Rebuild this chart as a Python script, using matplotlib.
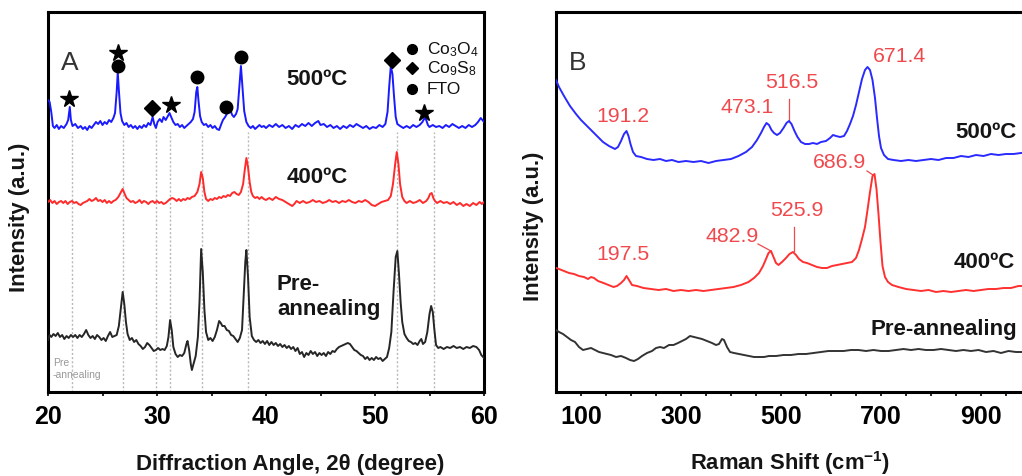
import matplotlib
matplotlib.use("Agg")
import matplotlib.pyplot as plt

plt.rcParams["font.family"] = ["Liberation Sans", "DejaVu Sans"]
plt.rcParams["mathtext.default"] = "regular"

# ---- panel A: XRD, 2theta (degree) vs intensity (a.u., offset traces)
xrd500 = [(20.0, 292), (20.15, 290), (20.3, 280), (20.45, 266), (20.6, 264), (20.8, 267), (21.0, 263),
          (21.2, 266), (21.45, 264), (21.7, 268), (21.85, 272), (22.0, 285), (22.1, 272), (22.25, 266),
          (22.5, 268), (22.75, 264), (23.0, 266), (23.2, 263), (23.4, 265), (23.6, 262), (23.8, 266),
          (24.0, 264), (24.2, 267), (24.4, 270), (24.6, 268), (24.8, 271), (25.0, 267), (25.2, 270),
          (25.4, 268), (25.6, 272), (25.8, 270), (26.0, 274), (26.15, 279), (26.3, 300), (26.4, 320),
          (26.5, 302), (26.65, 279), (26.8, 271), (27.0, 267), (27.2, 269), (27.4, 265), (27.6, 267),
          (27.8, 264), (28.0, 266), (28.2, 263), (28.4, 266), (28.6, 264), (28.8, 267), (29.0, 265),
          (29.2, 269), (29.4, 267), (29.6, 275), (29.75, 268), (29.9, 264), (30.05, 270), (30.25, 273),
          (30.45, 270), (30.6, 275), (30.8, 272), (31.0, 276), (31.15, 279), (31.3, 275), (31.5, 270),
          (31.7, 267), (31.9, 268), (32.1, 265), (32.3, 267), (32.5, 264), (32.7, 266), (32.9, 268),
          (33.1, 270), (33.3, 273), (33.45, 280), (33.6, 300), (33.7, 305), (33.8, 292), (33.95, 276),
          (34.1, 270), (34.3, 267), (34.5, 268), (34.7, 265), (34.9, 267), (35.1, 264), (35.3, 266),
          (35.5, 263), (35.7, 262), (35.9, 268), (36.05, 272), (36.25, 275), (36.45, 279), (36.6, 283),
          (36.75, 281), (36.9, 277), (37.05, 275), (37.25, 278), (37.4, 283), (37.55, 305), (37.7, 326),
          (37.85, 303), (38.0, 281), (38.2, 270), (38.4, 266), (38.6, 264), (38.8, 266), (39.0, 263),
          (39.2, 265), (39.4, 267), (39.6, 265), (39.8, 266), (40.0, 264), (40.3, 267), (40.6, 265),
          (40.9, 268), (41.2, 265), (41.5, 267), (41.8, 264), (42.1, 266), (42.4, 263), (42.7, 267),
          (43.0, 265), (43.3, 268), (43.6, 266), (43.9, 269), (44.2, 266), (44.5, 269), (44.8, 271),
          (45.0, 267), (45.3, 268), (45.6, 265), (45.9, 267), (46.2, 264), (46.5, 266), (46.8, 263),
          (47.1, 266), (47.4, 264), (47.7, 267), (48.0, 265), (48.3, 268), (48.6, 266), (48.9, 264),
          (49.2, 266), (49.5, 263), (49.8, 265), (50.1, 264), (50.4, 267), (50.7, 265), (50.95, 268),
          (51.15, 280), (51.3, 305), (51.45, 326), (51.6, 318), (51.75, 295), (51.9, 275), (52.05, 268),
          (52.3, 266), (52.6, 264), (52.9, 266), (53.2, 264), (53.5, 267), (53.8, 265), (54.1, 267),
          (54.35, 270), (54.55, 274), (54.7, 272), (54.85, 267), (55.0, 265), (55.3, 267), (55.6, 265),
          (55.9, 266), (56.2, 264), (56.5, 267), (56.8, 265), (57.1, 268), (57.4, 266), (57.7, 264),
          (58.0, 266), (58.3, 264), (58.6, 267), (58.9, 265), (59.2, 267), (59.45, 270), (59.7, 274),
          (59.85, 272), (60.0, 270)]

xrd400 = [(20.0, 190), (20.2, 192), (20.4, 189), (20.6, 191), (20.8, 188), (21.0, 190), (21.2, 191),
          (21.4, 189), (21.6, 191), (21.8, 188), (22.0, 190), (22.2, 191), (22.4, 189), (22.6, 190),
          (22.8, 188), (23.0, 187), (23.2, 189), (23.4, 190), (23.6, 191), (23.8, 193), (24.0, 191),
          (24.2, 192), (24.4, 194), (24.6, 191), (24.8, 192), (25.0, 190), (25.2, 192), (25.4, 189),
          (25.6, 191), (25.8, 189), (26.0, 191), (26.2, 192), (26.45, 195), (26.7, 200), (26.85, 203),
          (27.0, 199), (27.2, 194), (27.4, 192), (27.6, 190), (27.8, 191), (28.0, 189), (28.2, 190),
          (28.4, 192), (28.6, 189), (28.8, 191), (29.0, 190), (29.2, 188), (29.4, 190), (29.6, 191),
          (29.8, 189), (30.0, 191), (30.2, 189), (30.4, 190), (30.6, 188), (30.8, 189), (31.0, 191),
          (31.2, 193), (31.4, 194), (31.6, 193), (31.8, 191), (32.0, 193), (32.2, 191), (32.4, 193),
          (32.6, 192), (32.8, 194), (33.0, 193), (33.2, 195), (33.45, 196), (33.7, 200), (33.9, 208),
          (34.05, 220), (34.2, 214), (34.35, 200), (34.5, 193), (34.7, 191), (34.9, 193), (35.1, 192),
          (35.3, 194), (35.5, 193), (35.7, 195), (35.9, 194), (36.1, 196), (36.3, 195), (36.5, 197),
          (36.7, 196), (36.9, 199), (37.1, 200), (37.3, 198), (37.5, 197), (37.7, 200), (37.9, 208),
          (38.05, 222), (38.2, 234), (38.35, 225), (38.5, 210), (38.65, 200), (38.8, 196), (39.0, 194),
          (39.2, 195), (39.4, 193), (39.6, 195), (39.8, 193), (40.0, 192), (40.3, 194), (40.6, 192),
          (40.9, 195), (41.2, 193), (41.5, 192), (41.8, 190), (42.1, 188), (42.4, 186), (42.6, 188),
          (42.8, 191), (43.1, 189), (43.4, 191), (43.7, 189), (44.0, 190), (44.3, 192), (44.6, 190),
          (44.9, 191), (45.2, 189), (45.5, 190), (45.8, 192), (46.1, 190), (46.4, 191), (46.7, 189),
          (47.0, 191), (47.3, 190), (47.6, 192), (47.9, 190), (48.2, 189), (48.5, 191), (48.8, 190),
          (49.1, 192), (49.4, 190), (49.7, 187), (50.0, 186), (50.3, 188), (50.6, 190), (50.9, 191),
          (51.2, 192), (51.45, 196), (51.65, 208), (51.85, 228), (52.0, 240), (52.15, 228), (52.3, 208),
          (52.5, 195), (52.7, 191), (52.9, 189), (53.2, 191), (53.5, 189), (53.8, 190), (54.1, 192),
          (54.4, 189), (54.7, 191), (54.9, 194), (55.05, 198), (55.2, 199), (55.35, 194), (55.5, 191),
          (55.7, 189), (56.0, 191), (56.3, 189), (56.6, 190), (56.9, 188), (57.2, 190), (57.5, 187),
          (57.8, 189), (58.1, 186), (58.4, 188), (58.7, 186), (59.0, 189), (59.3, 187), (59.6, 190),
          (59.8, 188), (60.0, 190)]

xrdpre = [(20.0, 52), (20.15, 57), (20.3, 55), (20.5, 58), (20.7, 56), (20.9, 59), (21.1, 55),
          (21.3, 57), (21.5, 53), (21.7, 56), (21.9, 54), (22.1, 57), (22.3, 55), (22.5, 57),
          (22.7, 54), (22.9, 57), (23.1, 55), (23.3, 58), (23.5, 62), (23.7, 57), (23.9, 54),
          (24.1, 56), (24.3, 53), (24.5, 57), (24.7, 55), (24.9, 52), (25.1, 54), (25.3, 51),
          (25.5, 56), (25.7, 60), (25.9, 55), (26.1, 56), (26.3, 57), (26.5, 66), (26.7, 85),
          (26.85, 100), (27.0, 88), (27.15, 70), (27.3, 58), (27.5, 52), (27.7, 54), (27.9, 50),
          (28.1, 52), (28.3, 48), (28.5, 46), (28.7, 43), (28.9, 45), (29.1, 49), (29.3, 47),
          (29.5, 44), (29.7, 41), (29.9, 42), (30.1, 44), (30.3, 42), (30.5, 43), (30.7, 42),
          (30.9, 46), (31.05, 55), (31.2, 72), (31.35, 62), (31.5, 45), (31.7, 38), (31.9, 35),
          (32.1, 37), (32.3, 36), (32.5, 39), (32.7, 48), (32.8, 51), (32.95, 42), (33.1, 28),
          (33.2, 22), (33.35, 28), (33.55, 36), (33.75, 55), (33.9, 90), (34.05, 143), (34.2, 120),
          (34.35, 82), (34.5, 60), (34.7, 52), (34.9, 54), (35.1, 51), (35.3, 55), (35.5, 62),
          (35.7, 71), (35.85, 69), (36.0, 66), (36.2, 66), (36.4, 62), (36.6, 61), (36.8, 57),
          (37.0, 56), (37.2, 53), (37.4, 50), (37.6, 54), (37.8, 62), (37.95, 95), (38.1, 130),
          (38.2, 142), (38.35, 115), (38.5, 75), (38.7, 56), (38.9, 52), (39.1, 50), (39.3, 52),
          (39.5, 49), (39.7, 51), (39.9, 48), (40.1, 51), (40.3, 47), (40.5, 50), (40.7, 47),
          (40.9, 49), (41.1, 46), (41.3, 48), (41.5, 45), (41.7, 47), (41.9, 44), (42.1, 46),
          (42.3, 43), (42.5, 45), (42.7, 41), (42.9, 44), (43.1, 38), (43.3, 40), (43.5, 35),
          (43.7, 39), (43.9, 37), (44.1, 41), (44.3, 38), (44.5, 40), (44.7, 36), (44.9, 39),
          (45.1, 37), (45.3, 39), (45.5, 36), (45.7, 40), (45.9, 38), (46.1, 41), (46.3, 40),
          (46.5, 43), (46.7, 45), (46.9, 46), (47.1, 47), (47.3, 48), (47.5, 49), (47.7, 48),
          (47.9, 45), (48.1, 42), (48.3, 41), (48.5, 39), (48.7, 37), (48.9, 36), (49.1, 33),
          (49.3, 35), (49.5, 32), (49.7, 34), (49.9, 32), (50.1, 35), (50.3, 33), (50.5, 34),
          (50.7, 31), (50.9, 33), (51.1, 35), (51.3, 44), (51.5, 60), (51.7, 100), (51.9, 135),
          (52.05, 141), (52.2, 118), (52.35, 90), (52.5, 70), (52.7, 58), (52.9, 54), (53.1, 51),
          (53.3, 50), (53.5, 48), (53.7, 49), (53.9, 47), (54.1, 51), (54.25, 53), (54.4, 48),
          (54.6, 50), (54.8, 60), (55.0, 78), (55.15, 86), (55.3, 80), (55.45, 62), (55.6, 47),
          (55.8, 44), (56.0, 45), (56.3, 43), (56.6, 45), (56.9, 44), (57.2, 46), (57.5, 44),
          (57.8, 45), (58.1, 43), (58.4, 45), (58.7, 44), (59.0, 46), (59.3, 45), (59.55, 42),
          (59.75, 37), (60.0, 34)]

guide_x = [22.2, 26.9, 29.9, 31.2, 34.1, 38.35, 52.05, 55.4]
guide_top = 260

star_x = [21.9, 26.4, 31.3, 54.5]
star_y = [293, 339, 287, 279]
circle_x = [26.4, 33.7, 36.35, 37.7]
circle_y = [326, 315, 285, 335]
diamond_x = [29.55, 51.6]
diamond_y = [284, 332]

key_labels = ["Co$_3$O$_4$", "Co$_9$S$_8$", "FTO"]
key_marks = ["o", "D", "o"]
key_y = [343, 324, 303]

# ---- panel B: Raman, shift (cm-1) vs intensity (a.u., offset traces)
ram500 = [(50, 312), (56, 305), (66, 296), (78, 286), (90, 278), (100, 272), (112, 266), (122, 261),
          (132, 256), (144, 250), (156, 246), (168, 243), (174, 245), (180, 251), (186, 258), (191, 261),
          (195, 256), (199, 248), (204, 240), (210, 236), (220, 235), (232, 233), (245, 232), (258, 233),
          (270, 231), (282, 232), (295, 230), (310, 231), (325, 230), (340, 231), (355, 229), (370, 231),
          (385, 232), (400, 233), (415, 236), (430, 240), (442, 245), (452, 252), (460, 259), (466, 265),
          (471, 269), (476, 267), (481, 262), (486, 259), (492, 257), (498, 259), (505, 264), (511, 269),
          (516, 271), (521, 268), (527, 261), (533, 255), (540, 250), (548, 248), (556, 248), (564, 249),
          (572, 248), (580, 250), (590, 251), (598, 254), (604, 257), (610, 256), (618, 255), (626, 256),
          (632, 261), (638, 268), (644, 276), (650, 287), (656, 300), (662, 313), (668, 322), (673, 325),
          (678, 322), (683, 312), (688, 294), (692, 274), (696, 256), (700, 244), (706, 237), (714, 233),
          (725, 232), (740, 231), (755, 232), (770, 231), (785, 232), (800, 233), (815, 232), (830, 234),
          (845, 234), (860, 236), (875, 235), (890, 237), (905, 236), (920, 238), (935, 237), (950, 238),
          (965, 238), (980, 239), (995, 239)]

ram400 = [(50, 124), (56, 123), (66, 121), (76, 119), (86, 118), (96, 116), (106, 115), (114, 113),
          (120, 115), (126, 114), (134, 111), (145, 109), (155, 107), (165, 105), (172, 106), (180, 109),
          (186, 112), (191, 116), (196, 112), (202, 107), (212, 106), (225, 104), (240, 103), (255, 102),
          (270, 103), (285, 101), (300, 102), (315, 101), (330, 102), (345, 101), (360, 102), (375, 103),
          (390, 104), (405, 105), (420, 107), (435, 110), (446, 114), (456, 119), (464, 126), (470, 133),
          (475, 139), (480, 141), (485, 135), (490, 129), (495, 127), (502, 130), (510, 134), (517, 138),
          (524, 140), (530, 137), (536, 133), (544, 130), (552, 129), (562, 127), (572, 125), (582, 124),
          (592, 124), (602, 126), (612, 127), (622, 128), (632, 129), (642, 130), (650, 134), (656, 142),
          (662, 153), (668, 165), (673, 182), (678, 200), (683, 216), (687, 218), (691, 203), (695, 178),
          (699, 150), (703, 126), (708, 115), (714, 110), (722, 107), (735, 105), (750, 103), (765, 102),
          (780, 101), (795, 102), (810, 100), (825, 101), (840, 100), (855, 101), (870, 102), (885, 101),
          (900, 102), (915, 103), (930, 103), (945, 104), (960, 104), (975, 106), (995, 106)]

rampre = [(50, 62), (56, 60), (64, 58), (72, 55), (80, 52), (88, 50), (96, 45), (104, 42), (112, 43),
          (120, 44), (128, 42), (136, 40), (144, 39), (152, 38), (160, 37), (170, 35), (180, 36),
          (190, 34), (198, 32), (206, 31), (214, 33), (222, 36), (232, 39), (242, 41), (250, 44),
          (258, 45), (266, 44), (276, 47), (285, 47), (294, 49), (302, 51), (310, 53), (318, 56),
          (326, 55), (334, 54), (342, 53), (352, 51), (362, 49), (370, 47), (376, 48), (382, 53),
          (386, 52), (392, 45), (398, 40), (406, 39), (416, 38), (426, 37), (436, 36), (446, 35),
          (456, 35), (466, 35), (476, 36), (490, 36), (505, 37), (520, 37), (535, 38), (550, 38),
          (565, 39), (580, 40), (595, 41), (610, 41), (625, 41), (640, 42), (655, 42), (670, 41),
          (685, 42), (700, 41), (715, 41), (730, 42), (745, 43), (760, 42), (775, 43), (790, 42),
          (805, 42), (820, 43), (835, 42), (850, 41), (865, 42), (880, 41), (895, 42), (910, 40),
          (925, 41), (940, 39), (955, 41), (970, 40), (995, 40)]

peak_labels = ["191.2", "473.1", "516.5", "671.4", "197.5", "482.9", "525.9", "686.9"]
peak_label_x = [184, 432, 522, 738, 184, 402, 532, 618]
peak_label_y = [276, 285, 310, 336, 138, 156, 182, 230]
leader_x = [(516, 516), (526, 526), (454, 480), (672, 684)]
leader_y = [(293, 271), (165, 141), (148, 141), (221, 217)]

red_txt = "#f0494d"
dark = "#151515"


def draw_trace(ax, pts, color):
    xs, ys = zip(*pts)
    ax.plot(xs, ys, color=color, lw=1.4, zorder=3)


def style_axis(ax):
    ax.set_ylim(0, 380)
    ax.set_yticks([])
    ax.tick_params(axis="x", which="both", direction="out", length=3, width=1.2, labelsize=18, pad=6)
    for lab in ax.get_xticklabels():
        lab.set_fontweight("bold")
    for s in ax.spines.values():
        s.set_linewidth(2.2)


fig = plt.figure(figsize=(10.22, 4.77), dpi=100)
axA = fig.add_axes([48 / 1022, 1 - 393 / 477, 436 / 1022, 380 / 477])
axB = fig.add_axes([556 / 1022, 1 - 393 / 477, 470 / 1022, 380 / 477])

# panel A
axA.vlines(guide_x, 0, guide_top, colors="#b8b8b8", linestyles=(0, (1.5, 1.5)), linewidth=1.0, zorder=1)
draw_trace(axA, xrd500, "#1a1aff")
draw_trace(axA, xrd400, "#ff2a2a")
draw_trace(axA, xrdpre, "#262626")
axA.plot(star_x, star_y, "*", color="black", ms=13, zorder=4)
axA.plot(circle_x, circle_y, "o", color="black", ms=9, zorder=4)
axA.plot(diamond_x, diamond_y, "D", color="black", ms=8, zorder=4)
for lab, mk, yy in zip(key_labels, key_marks, key_y):
    axA.plot([53.4], [yy], mk, color="black", ms=7 if mk == "o" else 6.5, zorder=4)
    axA.text(54.75, yy, lab, fontsize=12.5, va="center", ha="left", color="#111")

axA.text(22.0, 330, "A", fontsize=19, color="#333", ha="center", va="center")
axA.text(41.9, 313, "500ºC", fontsize=16, fontweight="bold", va="center", color=dark)
axA.text(41.9, 215, "400ºC", fontsize=16, fontweight="bold", va="center", color=dark)
axA.text(41.0, 96, "Pre-\nannealing", fontsize=16, fontweight="bold", va="center",
         linespacing=1.3, color=dark)
axA.text(20.45, 24, "Pre\n-annealing", fontsize=7.5, color="#999", va="center", linespacing=1.3)

axA.set_xlim(20, 60)
axA.set_xticks([20, 30, 40, 50, 60])
axA.set_xticks([25, 35, 45, 55], minor=True)
style_axis(axA)

# panel B
draw_trace(axB, ram500, "#2a2aff")
draw_trace(axB, ram400, "#ff3030")
draw_trace(axB, rampre, "#333333")
for lab, xx, yy in zip(peak_labels, peak_label_x, peak_label_y):
    axB.text(xx, yy, lab, fontsize=15.3, color=red_txt, ha="center", va="center")
for lx, ly in zip(leader_x, leader_y):
    axB.plot(lx, ly, color=red_txt, lw=0.9)

axB.text(94, 330, "B", fontsize=19, color="#333", ha="center", va="center")
axB.text(972, 260, "500ºC", fontsize=16, fontweight="bold", ha="right", va="center", color=dark)
axB.text(968, 131, "400ºC", fontsize=16, fontweight="bold", ha="right", va="center", color=dark)
axB.text(972, 63, "Pre-annealing", fontsize=16, fontweight="bold", ha="right", va="center", color=dark)

axB.set_xlim(50, 990)
axB.set_xticks([100, 300, 500, 700, 900])
axB.set_xticks(list(range(150, 1000, 50)), minor=True)
style_axis(axB)

fig.text(20 / 1022, 1 - 217 / 477, "Intensity (a.u.)", rotation=90, fontsize=15.8,
         fontweight="bold", ha="center", va="center", color=dark)
fig.text(533 / 1022, 1 - 226 / 477, "Intensity (a.u.)", rotation=90, fontsize=15.8,
         fontweight="bold", ha="center", va="center", color=dark)
fig.text(290 / 1022, 1 - 465 / 477, "Diffraction Angle, 2θ (degree)", fontsize=16,
         fontweight="bold", ha="center", va="center", color=dark)
fig.text(790 / 1022, 1 - 463 / 477, "Raman Shift (cm$^{-1}$)", fontsize=15.8,
         fontweight="bold", ha="center", va="center", color=dark)

fig.savefig("out.png", dpi=100)
